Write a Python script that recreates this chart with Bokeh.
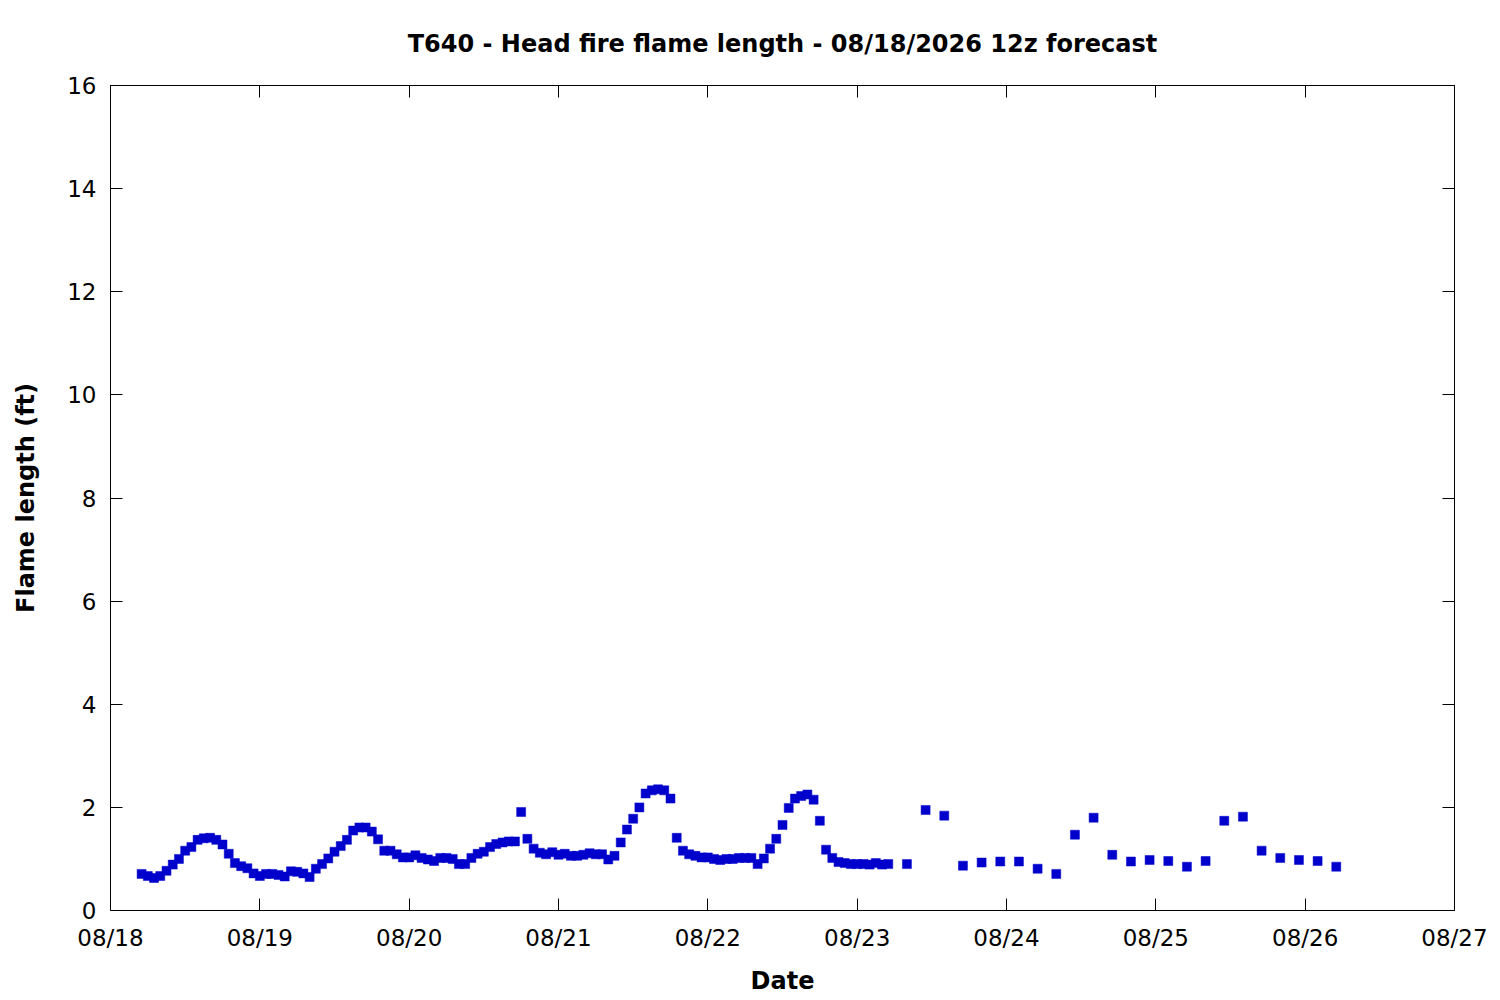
from bokeh.plotting import figure
from bokeh.models import Range1d, LinearAxis, FixedTicker, ColumnDataSource
from bokeh.embed import file_html
from bokeh.resources import INLINE

# hours since 08/18 00:00 (local)
hours = [
    5, 6, 7, 8, 9, 10, 11, 12, 13, 14, 15, 16, 17, 18, 19, 20, 21, 22, 23, 24,
    25, 26, 27, 28, 29, 30, 31, 32, 33, 34, 35, 36, 37, 38, 39, 40, 41, 42, 43, 44,
    45, 46, 47, 48, 49, 50, 51, 52, 53, 54, 55, 56, 57, 58, 59, 60, 61, 62, 63, 64,
    65, 66, 67, 68, 69, 70, 71, 72, 73, 74, 75, 76, 77, 78, 79, 80, 81, 82, 83, 84,
    85, 86, 87, 88, 89, 90, 91, 92, 93, 94, 95, 96, 97, 98, 99, 100, 101, 102, 103, 104,
    105, 106, 107, 108, 109, 110, 111, 112, 113, 114, 115, 116, 117, 118, 119, 120, 121, 122, 123, 124,
    125, 128, 131, 134, 137, 140, 143, 146, 149, 152, 155, 158, 161, 164, 167, 170, 173, 176, 179, 182,
    185, 188, 191, 194, 197,
]
flame_length = [
    0.71, 0.67, 0.63, 0.67, 0.77, 0.89, 1.00, 1.16, 1.23, 1.37, 1.40, 1.41, 1.37, 1.28, 1.10, 0.92, 0.86, 0.82, 0.72, 0.67,
    0.71, 0.71, 0.69, 0.66, 0.76, 0.75, 0.72, 0.65, 0.81, 0.90, 1.01, 1.14, 1.25, 1.37, 1.55, 1.61, 1.61, 1.53, 1.38, 1.16,
    1.16, 1.09, 1.03, 1.03, 1.07, 1.02, 0.99, 0.96, 1.02, 1.02, 1.00, 0.90, 0.90, 1.02, 1.10, 1.14, 1.23, 1.29, 1.32, 1.34,
    1.34, 1.91, 1.39, 1.20, 1.12, 1.09, 1.13, 1.08, 1.10, 1.06, 1.06, 1.08, 1.11, 1.09, 1.09, 0.99, 1.06, 1.32, 1.57, 1.78,
    2.00, 2.27, 2.33, 2.35, 2.33, 2.17, 1.41, 1.16, 1.09, 1.06, 1.03, 1.03, 1.00, 0.98, 1.00, 1.00, 1.02, 1.02, 1.02, 0.90,
    1.01, 1.20, 1.39, 1.66, 1.99, 2.17, 2.22, 2.25, 2.15, 1.74, 1.18, 1.02, 0.94, 0.92, 0.90, 0.90, 0.90, 0.89, 0.92, 0.89,
    0.90, 0.90, 1.95, 1.84, 0.87, 0.93, 0.95, 0.95, 0.81, 0.71, 1.47, 1.80, 1.08, 0.95, 0.98, 0.96, 0.85, 0.96, 1.74, 1.82,
    1.16, 1.02, 0.98, 0.96, 0.85,
]
day_ticks = [0, 1, 2, 3, 4, 5, 6, 7, 8, 9]
day_labels = ["08/18", "08/19", "08/20", "08/21", "08/22", "08/23", "08/24", "08/25", "08/26", "08/27"]
y_ticks = [0, 2, 4, 6, 8, 10, 12, 14, 16]

title_text = "T640 - Head fire flame length - 08/18/2026 12z forecast"
x_label = "Date"
y_label = "Flame length (ft)"

FONT = "DejaVu Sans"

src = ColumnDataSource(dict(day=[h / 24.0 for h in hours], fl=flame_length))

p = figure(frame_width=1344, frame_height=825, output_backend="svg", toolbar_location=None,
           x_range=Range1d(0, 9), y_range=Range1d(0, 16),
           min_border_left=110, min_border_right=38, min_border_top=85, min_border_bottom=82,
           x_axis_location=None, y_axis_location=None)
p.background_fill_color = "white"
p.border_fill_color = "white"
p.outline_line_color = "black"
p.outline_line_width = 1
p.grid.visible = False

p.title.text = title_text
p.title.align = "center"
p.title.text_font = FONT
p.title.text_font_size = "24px"
p.title.text_font_style = "bold"
p.title.text_color = "black"
p.title.standoff = 55

overrides = {t: l for t, l in zip(day_ticks, day_labels)}


def make_axis(ticks, labels_visible, label=None, overrides_map=None):
    ax = LinearAxis(ticker=FixedTicker(ticks=ticks))
    ax.axis_line_color = None
    ax.major_tick_in = 12
    ax.major_tick_out = 0
    ax.major_tick_line_color = "black"
    ax.major_tick_line_width = 1
    ax.minor_tick_line_color = None
    ax.major_label_text_font = FONT
    ax.major_label_text_font_size = "23px"
    ax.major_label_text_color = "black"
    if overrides_map:
        ax.major_label_overrides = overrides_map
    if not labels_visible:
        ax.major_label_text_color = None
        ax.major_label_text_font_size = "1px"
        ax.major_label_standoff = 0
    if label:
        ax.axis_label = label
        ax.axis_label_text_font = FONT
        ax.axis_label_text_font_size = "24px"
        ax.axis_label_text_font_style = "bold"
        ax.axis_label_text_color = "black"
    return ax


xb = make_axis(day_ticks, True, x_label, overrides)
xb.major_label_standoff = 14
xb.axis_label_standoff = 13
p.add_layout(xb, "below")

yl = make_axis(y_ticks, True, y_label)
yl.major_label_standoff = 14
yl.axis_label_standoff = 24
p.add_layout(yl, "left")

p.add_layout(make_axis(day_ticks, False), "above")
p.add_layout(make_axis(y_ticks, False), "right")

p.scatter("day", "fl", source=src, marker="square", size=9,
          fill_color="#0000CC", line_color="#0000CC", line_width=0.5)

open("out.html", "w").write(file_html(p, INLINE))
